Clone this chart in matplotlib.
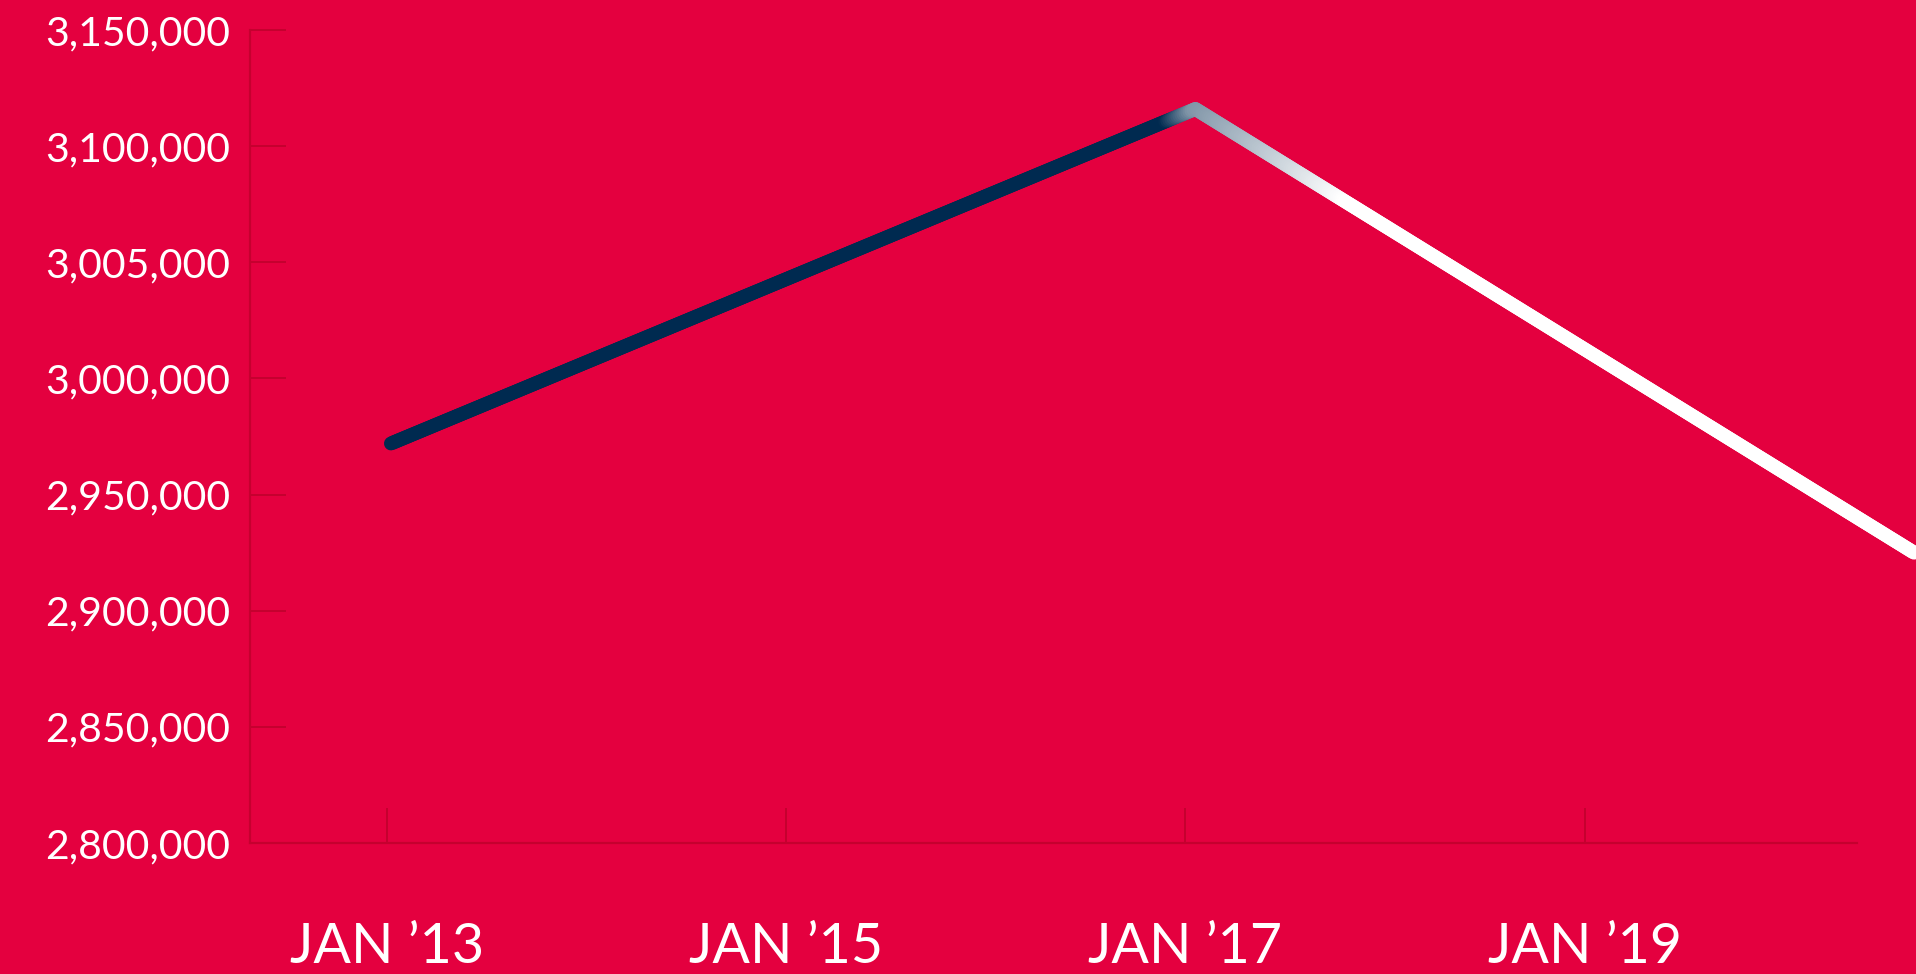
import numpy as np
import matplotlib.pyplot as plt
from matplotlib.collections import LineCollection
from matplotlib.colors import to_rgb

# values (x in decimal years)
years = [2013.02, 2017.05, 2020.65]
values = [2972000, 3116000, 2925000]

y_ticks = [2800000, 2850000, 2900000, 2950000, 3000000, 3050000, 3100000, 3150000]
y_labels = ['2,800,000', '2,850,000', '2,900,000', '2,950,000',
            '3,000,000', '3,005,000', '3,100,000', '3,150,000']
x_ticks = [2013, 2015, 2017, 2019]
x_labels = ['JAN \u201913', 'JAN \u201915', 'JAN \u201917', 'JAN \u201919']

bg = '#E4003F'
navy = '#002A50'
axis_red = '#C5002F'

plt.rcParams['font.family'] = ['Lato', 'DejaVu Sans']

fig = plt.figure(figsize=(19.16, 9.74), dpi=100, facecolor=bg)
ax = fig.add_axes([250 / 1916, 131 / 974, 1 - 250 / 1916, 813 / 974])
ax.set_facecolor(bg)
ax.set_xlim(2012.314, 2020.66)
ax.set_ylim(2800000, 3150000)

# line drawn in small pieces so the colour can fade from navy to white after the peak
px, py = [], []
for i in range(len(years) - 1):
    px.append(np.linspace(years[i], years[i + 1], 400, endpoint=False))
    py.append(np.linspace(values[i], values[i + 1], 400, endpoint=False))
px.append([years[-1]])
py.append([values[-1]])
px = np.concatenate(px)
py = np.concatenate(py)
pts = np.column_stack([px, py])
segs = np.stack([pts[:-1], pts[1:]], axis=1)
mid = (px[:-1] + px[1:]) / 2
t = np.interp(mid, [2016.90, 2017.04, 2017.80], [0.0, 0.5, 1.0])
c0 = np.array(to_rgb(navy))
c1 = np.array([1.0, 1.0, 1.0])
cols = c0 + (c1 - c0) * t[:, None]
lc = LineCollection(segs, colors=cols, linewidths=10, capstyle='round', clip_on=False, zorder=3)
ax.add_collection(lc)

for s in ['top', 'right']:
    ax.spines[s].set_visible(False)
for s in ['left', 'bottom']:
    ax.spines[s].set_color(axis_red)
    ax.spines[s].set_linewidth(1.6)
ax.spines['bottom'].set_bounds(2012.314, 2020.365)

ax.set_yticks(y_ticks)
ax.set_yticklabels(y_labels)
ax.set_xticks(x_ticks)
ax.set_xticklabels(x_labels)
ax.tick_params(axis='y', direction='in', length=26, width=1.4, color=axis_red,
               labelcolor='white', labelsize=29.5, pad=14)
ax.tick_params(axis='x', direction='in', length=25, width=1.4, color=axis_red,
               labelcolor='white', labelsize=40, pad=57)

fig.savefig('out.png', dpi=100, facecolor=bg)
